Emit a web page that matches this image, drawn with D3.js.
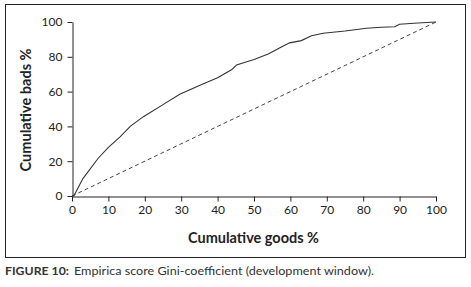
<!DOCTYPE html>
<html>
<head>
<meta charset="utf-8">
<script src="https://cdn.jsdelivr.net/npm/d3@7"></script>
<style>
  body { margin: 0; background: #fff; }
  svg { display: block; }
  text { font-family: Lato, "Open Sans", sans-serif; }
</style>
</head>
<body>
<svg id="chart" width="471" height="287"></svg>
<script>
// Data
const goodsPct = [0, 0.5, 3, 7.2, 10, 13.2, 16, 19.6, 25, 29.6, 35, 40, 43.8, 45.2, 50, 53.9, 57, 59.8, 63, 65.8, 69, 75, 80.9, 85, 88.7, 90, 95, 100];
const badsPct  = [0, 0, 10, 21.7, 28, 34, 40, 45.6, 52.5, 58.5, 63.5, 68, 72.5, 75.3, 78.5, 81.6, 85, 88, 89.3, 92.1, 93.5, 94.8, 96.4, 97, 97.3, 98.7, 99.4, 100];
const diagonal = [[0, 0], [100, 100]];
const xTicks = [0, 10, 20, 30, 40, 50, 60, 70, 80, 90, 100];
const yTicks = [0, 20, 40, 60, 80, 100];
const xTitle = "Cumulative goods %";
const yTitle = "Cumulative bads %";

const svg = d3.select("#chart");

// outer frame
svg.append("rect")
  .attr("x", 5.5).attr("y", 4.5)
  .attr("width", 460).attr("height", 253)
  .attr("fill", "none").attr("stroke", "#222").attr("stroke-width", 1);

const x = d3.scaleLinear().domain([0, 100]).range([72, 436]);
const y = d3.scaleLinear().domain([0, 100]).range([196, 22]);

const xAxis = svg.append("g")
  .attr("transform", "translate(0,196.5)")
  .call(d3.axisBottom(x).tickValues(xTicks).tickSize(5).tickPadding(4).tickSizeOuter(0));
const yAxis = svg.append("g")
  .attr("transform", "translate(72.5,0)")
  .call(d3.axisLeft(y).tickValues(yTicks).tickSize(5).tickPadding(5).tickSizeOuter(0));

[xAxis, yAxis].forEach(g => {
  g.select(".domain").attr("stroke", "#222");
  g.selectAll(".tick line").attr("stroke", "#222");
  g.selectAll(".tick text")
    .attr("fill", "#222")
    .style("font-size", "12px")
    .style("font-family", "Lato, 'Open Sans', sans-serif");
});

// diagonal
svg.append("path")
  .datum(diagonal)
  .attr("d", d3.line().x(d => x(d[0])).y(d => y(d[1])))
  .attr("fill", "none")
  .attr("stroke", "#444")
  .attr("stroke-width", 1)
  .attr("stroke-dasharray", "4,3");

// curve
const pts = goodsPct.map((g, i) => [g, badsPct[i]]);
svg.append("path")
  .datum(pts)
  .attr("d", d3.line().x(d => x(d[0])).y(d => y(d[1])))
  .attr("fill", "none")
  .attr("stroke", "#333")
  .attr("stroke-width", 1.1);

// axis titles
svg.append("text")
  .attr("x", 253.5).attr("y", 243)
  .attr("text-anchor", "middle")
  .attr("font-weight", "bold")
  .attr("font-size", "14.5px")
  .attr("textLength", 131)
  .attr("lengthAdjust", "spacingAndGlyphs")
  .attr("fill", "#222")
  .text(xTitle);

svg.append("text")
  .attr("transform", "translate(31,110) rotate(-90)")
  .attr("text-anchor", "middle")
  .attr("font-weight", "bold")
  .attr("font-size", "14.5px")
  .attr("textLength", 123)
  .attr("lengthAdjust", "spacingAndGlyphs")
  .attr("fill", "#222")
  .text(yTitle);

// caption
svg.append("text")
  .attr("x", 5).attr("y", 275)
  .attr("font-size", "11.5px")
  .attr("font-weight", "bold")
  .attr("textLength", 64)
  .attr("lengthAdjust", "spacingAndGlyphs")
  .attr("fill", "#333")
  .text("FIGURE 10:");
svg.append("text")
  .attr("x", 74).attr("y", 275)
  .attr("font-size", "11.5px")
  .attr("textLength", 300)
  .attr("lengthAdjust", "spacingAndGlyphs")
  .attr("fill", "#333")
  .text("Empirica score Gini-coefficient (development window).");
</script>
</body>
</html>
